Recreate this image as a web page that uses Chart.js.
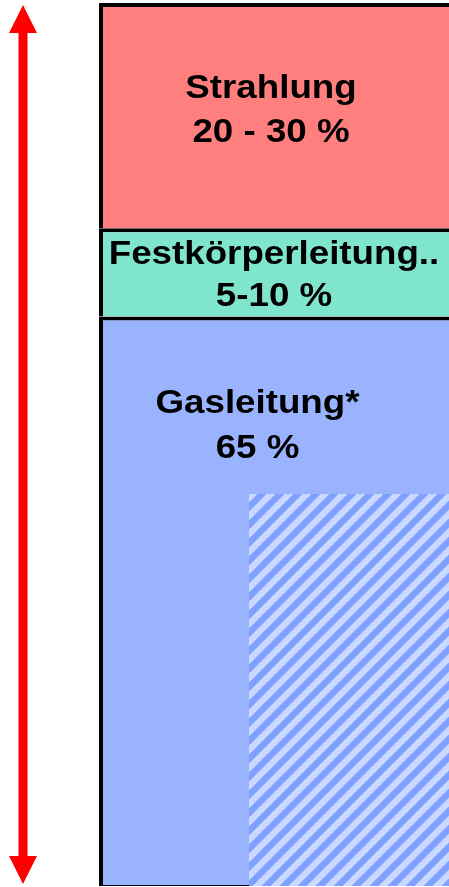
<!DOCTYPE html>
<html>
<head>
<meta charset="utf-8">
<script src="https://cdn.jsdelivr.net/npm/chart.js@4.4.1/dist/chart.umd.min.js"></script>
<style>
html, body { margin: 0; padding: 0; background: #fff; overflow: hidden; }
canvas { display: block; }
</style>
</head>
<body>
<canvas id="grafico" width="449" height="887"></canvas>
<script>
// ===== DATEN =====
const kategorien = ["Wärmetransport"]
const anteile = ["Gasleitung*", "Festkörperleitung..", "Strahlung"]
const werte = [64.5, 10, 25.5]
const bereiche = ["65 %", "5-10 %", "20 - 30 %"]
const schraffurKategorien = ["", "Gasleitung (Anteil)"]
const schraffurWerte = [null, 44.4]
const skalaMin = 0
const skalaMax = 100

const farben = ["rgb(153,179,255)", "rgb(127,229,204)", "rgb(255,127,127)"]

// Schraffur-Muster (diagonal, "/")
function schraffur() {
    const p = 18
    const c = document.createElement("canvas")
    c.width = p
    c.height = p
    const g = c.getContext("2d")
    g.fillStyle = "rgb(204,217,255)"
    g.fillRect(0, 0, p, p)
    g.strokeStyle = "rgb(128,160,255)"
    g.lineWidth = 6.5
    for (let k = -1; k <= 1; k++) {
        g.beginPath()
        g.moveTo(k * p - p, 2 * p)
        g.lineTo(k * p + 2 * p, -p)
        g.stroke()
    }
    return g.createPattern(c, "repeat")
}

// Beschriftung der Segmente
const beschriftungPlugin = {
    id: "beschriftung",
    afterDatasetsDraw(chart, args, opts) {
        const ctx = chart.ctx
        ctx.save()
        ctx.fillStyle = "#000"
        ctx.font = "bold 34px 'Liberation Sans', Arial, sans-serif"
        ctx.textAlign = "center"
        ctx.textBaseline = "alphabetic"
        opts.positionen.forEach(function(pos, i) {
            const el = chart.getDatasetMeta(i).data[0]
            const zeilen = [anteile[i], bereiche[i]]
            zeilen.forEach(function(t, j) {
                ctx.save()
                ctx.translate(el.x + pos.dx, el.y + pos.dy[j])
                ctx.scale(opts.breite, 1)
                ctx.fillText(t, 0, 0)
                ctx.restore()
            })
        })
        ctx.restore()
    }
}

// roter Doppelpfeil links
const pfeilPlugin = {
    id: "pfeil",
    afterDraw(chart, args, o) {
        const y = chart.scales.y
        const oben = y.getPixelForValue(skalaMax) + o.abstand
        const unten = y.getPixelForValue(skalaMin) - o.abstand
        const ctx = chart.ctx
        ctx.save()
        ctx.fillStyle = o.farbe
        ctx.fillRect(o.x - o.schaft / 2, oben + o.kopf - 1, o.schaft, unten - oben - 2 * o.kopf + 2)
        ctx.beginPath()
        ctx.moveTo(o.x, oben)
        ctx.lineTo(o.x + o.spitze, oben + o.kopf)
        ctx.lineTo(o.x - o.spitze, oben + o.kopf)
        ctx.closePath()
        ctx.fill()
        ctx.beginPath()
        ctx.moveTo(o.x, unten)
        ctx.lineTo(o.x + o.spitze, unten - o.kopf)
        ctx.lineTo(o.x - o.spitze, unten - o.kopf)
        ctx.closePath()
        ctx.fill()
        ctx.restore()
    }
}

const segmente = anteile.map(function(name, i) {
    return {
        label: name,
        data: [werte[i]],
        backgroundColor: farben[i],
        borderColor: "#000",
        borderWidth: { top: 4, left: 4, right: 0, bottom: i === 0 ? 1 : 0 },
        borderSkipped: false,
        barPercentage: 1,
        categoryPercentage: 1,
        grouped: false,
        inflateAmount: 0,
        xAxisID: "x",
        order: 1
    }
})

new Chart(document.getElementById("grafico"), {
    type: "bar",
    data: {
        labels: kategorien,
        datasets: segmente.concat([{
            label: "Gasleitung schraffiert",
            data: schraffurWerte,
            backgroundColor: schraffur(),
            borderWidth: 0,
            barThickness: 225,
            grouped: false,
            inflateAmount: 0,
            xAxisID: "x2",
            order: 0
        }])
    },
    options: {
        responsive: false,
        devicePixelRatio: 1,
        animation: false,
        layout: { padding: { left: 99, top: 3, right: 0, bottom: 1 } },
        scales: {
            x: { display: false, stacked: true, min: kategorien[0], max: kategorien[kategorien.length - 1] },
            x2: { type: "category", labels: schraffurKategorien, display: false, offset: true },
            y: { display: false, stacked: true, min: skalaMin, max: skalaMax }
        },
        plugins: {
            legend: { display: false },
            tooltip: { enabled: false },
            beschriftung: {
                breite: 1.08,
                positionen: [
                    { dx: -16.5, dy: [97, 142] },
                    { dx: 0, dy: [35.6, 78] },
                    { dx: -3, dy: [95, 139] }
                ]
            },
            pfeil: { x: 23, abstand: 2, schaft: 9, kopf: 28, spitze: 14, farbe: "#ff0000" }
        }
    },
    plugins: [beschriftungPlugin, pfeilPlugin]
})
</script>
</body>
</html>
